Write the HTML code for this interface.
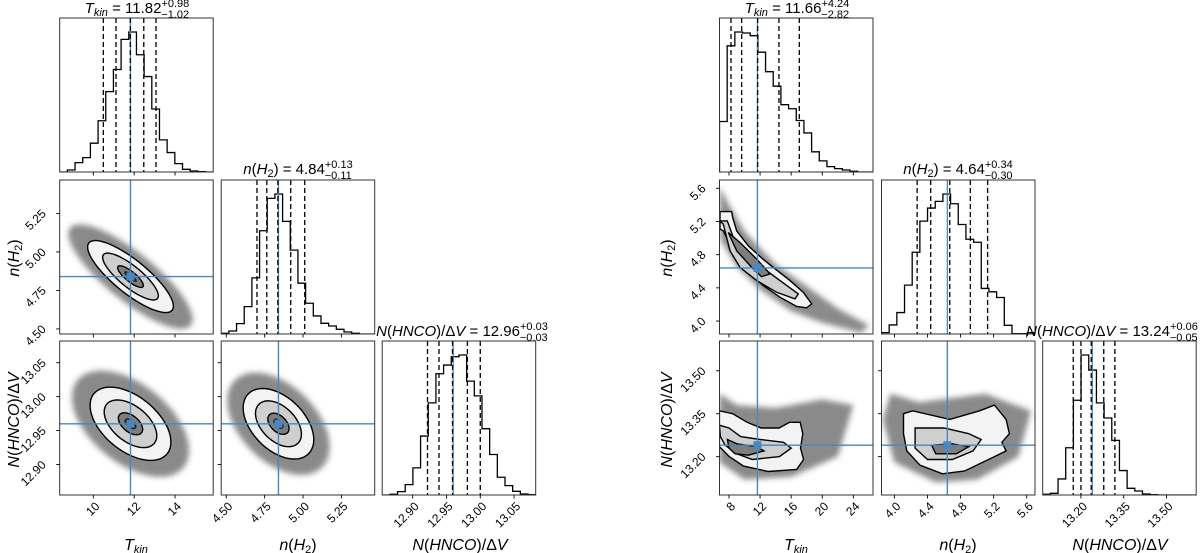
<!DOCTYPE html>
<html><head><meta charset="utf-8"><style>
body{margin:0;background:#fff}
svg{display:block;font-family:"Liberation Sans",sans-serif}
</style></head><body>
<svg id="fig" width="1200" height="553" viewBox="0 0 1200 553" xmlns="http://www.w3.org/2000/svg">
<defs>
<filter id="blur" x="-50%" y="-50%" width="200%" height="200%"><feGaussianBlur stdDeviation="3"/></filter>
</defs>
</svg>
<script>
// ---------- data: left corner plot ----------
const L_tkin_hist=[0,6,28,43,86,153,240,306,396,418,350,285,188,96,58,25,8,3,1,0];
const L_nh2_hist=[2,9,31,82,168,309,406,419,337,251,152,92,54,32,24,14,6,2,0,0];
const L_n_hist=[0,2,10,31,81,176,275,362,388,413,418,340,296,198,121,53,28,11,3,1];
const L_tkin_q=[10.49,11.11,11.81,12.47,13.07];
const L_nh2_q=[4.70,4.764,4.836,4.92,5.011];
const L_n_q=[12.922,12.939,12.959,12.981,13.0];
const L_truth=[11.82,4.84,12.96];
const L_ranges=[[8.353,15.87],[4.467,5.467],[12.855,13.082]];
const L_ticks=[[10,12,14],[4.5,4.75,5.0,5.25],[12.90,12.95,13.00,13.05]];
const L_ticklabels=[["10","12","14"],["4.50","4.75","5.00","5.25"],["12.90","12.95","13.00","13.05"]];
const L_cov_10=[1.05,0.117,-0.82];
const L_cov_20=[0.99,0.027,-0.5];
const L_cov_21=[0.115,0.026,-0.45];
const L_levels=[0.6,1.3,2.0];
// ---------- data: right corner plot ----------
const R_tkin_hist=[150,375,416,413,405,356,298,255,200,188,153,116,60,33,16,10,6,2,0,0];
const R_nh2_hist=[4,27,64,146,244,337,376,396,418,389,327,283,274,136,126,109,26,1,1,4];
const R_n_hist=[2,5,48,141,283,418,373,275,230,163,73,20,12,3,1,0,0,0,0,0];
const R_tkin_q=[8.26,9.63,11.69,14.43,17.05];
const R_nh2_q=[4.275,4.439,4.67,4.918,5.127];
const R_n_q=[13.173,13.2,13.236,13.28,13.319];
const R_truth=[11.66,4.64,13.24];
const R_ranges=[[6.78,26.53],[3.844,5.70],[13.066,13.604]];
const R_ticks=[[8,12,16,20,24],[4.0,4.4,4.8,5.2,5.6],[13.20,13.35,13.50]];
const R_ticklabels=[["8","12","16","20","24"],["4.0","4.4","4.8","5.2","5.6"],["13.20","13.35","13.50"]];
const R_c10_outer=[[6.84,5.319],[8.35,5.319],[8.48,5.247],[8.99,5.087],[10.48,4.907],[12.2,4.76],[13.7,4.647],[15.85,4.487],[17.56,4.347],[18.64,4.207],[18.0,4.16],[16.71,4.175],[14.56,4.287],[12.41,4.427],[10.7,4.568],[8.99,4.727],[8.13,4.887],[7.7,5.007],[7.27,5.087],[6.84,5.108]];
const R_c10_mid=[[6.84,5.207],[7.78,5.207],[8.55,5.007],[9.84,4.847],[11.99,4.667],[14.56,4.487],[16.92,4.327],[16.49,4.267],[14.14,4.347],[11.57,4.487],[9.42,4.647],[8.13,4.847],[7.27,5.167]];
const R_c10_in=[[7.91,5.067],[9.42,4.947],[11.57,4.747],[13.28,4.568],[12.2,4.535],[10.92,4.647],[8.99,4.847]];
const R_c10_cloud=[[6.78,5.62],[8,5.4],[10,5.08],[14,4.68],[18,4.42],[22,4.15],[26,3.95],[25,3.86],[20,3.98],[16,4.12],[12,4.38],[9,4.66],[6.9,4.98]];
const R_c20_outer=[[6.77,13.36],[8.46,13.35],[10.33,13.32],[12.14,13.3],[14.43,13.3],[15.8,13.32],[17.16,13.32],[17.5,13.28],[17.2,13.23],[17.6,13.19],[16.7,13.155],[13.06,13.148],[9.87,13.167],[8.04,13.2],[6.77,13.235]];
const R_c20_mid=[[6.77,13.31],[8,13.3],[9.5,13.27],[12,13.26],[15,13.25],[16,13.23],[14.5,13.2],[11,13.19],[9,13.21],[7.5,13.24],[6.9,13.27]];
const R_c20_in=[[7.8,13.26],[9,13.245],[11.5,13.235],[12.5,13.22],[10.5,13.205],[8.8,13.21],[8,13.23]];
const R_c20_cloud=[[6.78,13.42],[9,13.38],[14,13.37],[20,13.4],[24,13.38],[22,13.2],[16,13.13],[10,13.12],[6.78,13.18]];
const R_c21_outer=[[4.11,13.35],[4.22,13.36],[4.67,13.33],[5.03,13.36],[5.21,13.38],[5.35,13.33],[5.39,13.28],[5.30,13.25],[5.35,13.22],[5.21,13.2],[4.85,13.15],[4.58,13.14],[4.31,13.17],[4.15,13.22],[4.11,13.28]];
const R_c21_mid=[[4.25,13.3],[4.6,13.3],[4.9,13.28],[5.05,13.26],[4.95,13.22],[4.7,13.19],[4.4,13.19],[4.25,13.23]];
const R_c21_in=[[4.45,13.24],[4.7,13.245],[4.9,13.235],[4.75,13.21],[4.5,13.21]];
const R_c21_cloud=[[3.95,13.42],[4.3,13.39],[5.1,13.42],[5.65,13.36],[5.5,13.2],[5.0,13.12],[4.5,13.11],[4.0,13.18],[3.86,13.33]];

const NS="http://www.w3.org/2000/svg";
const svg=document.getElementById('fig');
const BLUE="#4a86c0";
function mk(tag,attrs,parent){const e=document.createElementNS(NS,tag);for(const k in attrs)e.setAttribute(k,attrs[k]);(parent||svg).appendChild(e);return e;}

function drawCorner(cfg){
  const W=153.5,H=154;
  const g=mk('g',{});
  
  
  const sx=(c,v)=>cfg.cols[c]+(v-cfg.ranges[c][0])/(cfg.ranges[c][1]-cfg.ranges[c][0])*W;
  const sy=(r,v)=>cfg.rows[r]+H-(v-cfg.ranges[r][0])/(cfg.ranges[r][1]-cfg.ranges[r][0])*H;
  const hists=[cfg.h0,cfg.h1,cfg.h2], qs=[cfg.q0,cfg.q1,cfg.q2];
  for(let i=0;i<3;i++){
    for(let j=0;j<=i;j++){
      const x0=cfg.cols[j], y0=cfg.rows[i];
      const cid=cfg.pre+'clip'+i+j;
      const cp=mk('clipPath',{id:cid},g);mk('rect',{x:x0,y:y0,width:W,height:H},cp);
      const pg=mk('g',{'clip-path':'url(#'+cid+')'},g);
      if(i===j){
        
        
        const h=hists[i], n=h.length, mx=Math.max(...h)*1.1;
        const [a,b]=cfg.ranges[i];
        let d='M'+x0+','+(y0+H);
        for(let k=0;k<n;k++){
          const xa=sx(i,a+(b-a)*k/n), xb=sx(i,a+(b-a)*(k+1)/n), yy=y0+H-h[k]/mx*H;
          d+=' L'+xa+','+yy+' L'+xb+','+yy;
        }
        d+=' L'+(x0+W)+','+(y0+H);
        const p=mk('path',{d:d,fill:'none',stroke:'#000','stroke-width':1.3},pg);
        
        
        mk('line',{x1:sx(i,cfg.truth[i]),x2:sx(i,cfg.truth[i]),y1:y0,y2:y0+H,stroke:BLUE,'stroke-width':1.3},pg);
        qs[i].forEach(q=>{
          const l=mk('line',{x1:sx(i,q),x2:sx(i,q),y1:y0,y2:y0+H,stroke:'#000','stroke-width':1.3,'stroke-dasharray':'5,3'},pg);
          
          
        });
      } else {
        
        
        const P=pts=>pts.map(p=>sx(j,p[0]).toFixed(1)+','+sy(i,p[1]).toFixed(1)).join(' ');
        let polys;
        const key=''+i+j;
        if(cfg.cov){
          const [csx,csy,rho]=cfg.cov[key];const c=[cfg.truth[j],cfg.truth[i]];
          const ell=k=>{const a=[];for(let t=0;t<64;t++){const th=t/64*2*Math.PI;a.push([c[0]+k*csx*Math.cos(th),c[1]+k*csy*(rho*Math.cos(th)+Math.sqrt(1-rho*rho)*Math.sin(th))]);}return a;};
          polys={cloud:ell(2.9),outer:ell(cfg.levels[2]),mid:ell(cfg.levels[1]),inner:ell(cfg.levels[0]),core:ell(0.3)};
        } else polys=cfg.poly[key];
        mk('polygon',{points:P(polys.cloud),fill:'#3a3a3a','fill-opacity':0.6,filter:'url(#blur)'},pg);
        mk('polygon',{points:P(polys.outer),fill:'#f3f3f3',stroke:'#000','stroke-width':1.4},pg);
        mk('polygon',{points:P(polys.mid),fill:'#cfcfcf',stroke:'#000','stroke-width':1.4},pg);
        mk('polygon',{points:P(polys.inner),fill:'#7e7e7e',stroke:'#000','stroke-width':1.4},pg);
        if(polys.core) mk('polygon',{points:P(polys.core),fill:'#222'},pg);
        const vx=sx(j,cfg.truth[j]), hy=sy(i,cfg.truth[i]);
        mk('line',{x1:vx,x2:vx,y1:y0,y2:y0+H,stroke:BLUE,'stroke-width':1.4},pg);
        mk('line',{x1:x0,x2:x0+W,y1:hy,y2:hy,stroke:BLUE,'stroke-width':1.4},pg);
        const m=mk('rect',{x:vx-4,y:hy-4,width:8,height:8,fill:BLUE},pg);
        
        
      }
      const fr=mk('rect',{x:x0,y:y0,width:W,height:H,fill:'none',stroke:'#333','stroke-width':1},g);
      
      
      cfg.ticks[j].forEach((t,k)=>{
        const x=sx(j,t);
        mk('line',{x1:x,x2:x,y1:y0+H,y2:y0+H+3.5,stroke:'#000','stroke-width':0.9},g);
        if(i===2){
          const tx=mk('text',{x:x+7,y:y0+H+12,'font-size':12,'text-anchor':'end',transform:'rotate(-45 '+(x+7)+' '+(y0+H+12)+')'},g);
          tx.textContent=cfg.ticklabels[j][k];
          
          
        }
      });
      if(i!==j){
        cfg.ticks[i].forEach((t,k)=>{
          const y=sy(i,t);
          mk('line',{x1:x0-3.5,x2:x0,y1:y,y2:y,stroke:'#000','stroke-width':0.9},g);
          if(j===0){
            const px=x0-13, py=y+1;
            const tx=mk('text',{x:px,y:py,'font-size':12,'text-anchor':'end',transform:'rotate(-45 '+px+' '+py+')'},g);
            tx.textContent=cfg.ticklabels[i][k];
            
            
          }
        });
      }
    }
  }
}

drawCorner({name:'corner-plot-left',pre:'L',cols:[59.7,221.2,382.2],rows:[18,180,341],
  ranges:L_ranges,ticks:L_ticks,ticklabels:L_ticklabels,truth:L_truth,names:['tkin','nh2','nhnco'],
  h0:L_tkin_hist,h1:L_nh2_hist,h2:L_n_hist,q0:L_tkin_q,q1:L_nh2_q,q2:L_n_q,
  cov:{'10':L_cov_10,'20':L_cov_20,'21':L_cov_21},levels:L_levels});
drawCorner({name:'corner-plot-right',pre:'R',cols:[719.5,881.5,1042.7],rows:[18,180,341],
  ranges:R_ranges,ticks:R_ticks,ticklabels:R_ticklabels,truth:R_truth,names:['tkin','nh2','nhnco'],
  h0:R_tkin_hist,h1:R_nh2_hist,h2:R_n_hist,q0:R_tkin_q,q1:R_nh2_q,q2:R_n_q,
  poly:{'10':{cloud:R_c10_cloud,outer:R_c10_outer,mid:R_c10_mid,inner:R_c10_in},
        '20':{cloud:R_c20_cloud,outer:R_c20_outer,mid:R_c20_mid,inner:R_c20_in},
        '21':{cloud:R_c21_cloud,outer:R_c21_outer,mid:R_c21_mid,inner:R_c21_in}}});
</script>
<svg width="1200" height="553" style="position:absolute;left:0;top:0" font-family="Liberation Sans, sans-serif">
<text x="137" y="13" font-size="15" text-anchor="middle"><tspan font-style="italic">T</tspan><tspan font-style="italic" font-size="11" dy="3">kin</tspan><tspan dy="-3"> = 11.82</tspan><tspan font-size="11" dy="-6">+0.98</tspan><tspan font-size="11" dx="-28" dy="11">−1.02</tspan></text>
<text x="298" y="174" font-size="15" text-anchor="middle"><tspan font-style="italic">n</tspan>(<tspan font-style="italic">H</tspan><tspan font-size="11" dy="3">2</tspan><tspan dy="-3">) = 4.84</tspan><tspan font-size="11" dy="-6">+0.13</tspan><tspan font-size="11" dx="-28" dy="11">−0.11</tspan></text>
<text x="462" y="336" font-size="15" text-anchor="middle"><tspan font-style="italic">N</tspan>(<tspan font-style="italic">HNCO</tspan>)/Δ<tspan font-style="italic">V</tspan> = 12.96<tspan font-size="11" dy="-6">+0.03</tspan><tspan font-size="11" dx="-28" dy="11">−0.03</tspan></text>
<text x="797" y="13" font-size="15" text-anchor="middle"><tspan font-style="italic">T</tspan><tspan font-style="italic" font-size="11" dy="3">kin</tspan><tspan dy="-3"> = 11.66</tspan><tspan font-size="11" dy="-6">+4.24</tspan><tspan font-size="11" dx="-28" dy="11">−2.82</tspan></text>
<text x="958" y="174" font-size="15" text-anchor="middle"><tspan font-style="italic">n</tspan>(<tspan font-style="italic">H</tspan><tspan font-size="11" dy="3">2</tspan><tspan dy="-3">) = 4.64</tspan><tspan font-size="11" dy="-6">+0.34</tspan><tspan font-size="11" dx="-28" dy="11">−0.30</tspan></text>
<text x="1112" y="336" font-size="15" text-anchor="middle"><tspan font-style="italic">N</tspan>(<tspan font-style="italic">HNCO</tspan>)/Δ<tspan font-style="italic">V</tspan> = 13.24<tspan font-size="11" dy="-6">+0.06</tspan><tspan font-size="11" dx="-28" dy="11">−0.05</tspan></text>
<text x="136" y="550" font-size="16" text-anchor="middle"><tspan font-style="italic">T</tspan><tspan font-style="italic" font-size="11" dy="3">kin</tspan></text>
<text x="298" y="550" font-size="16" text-anchor="middle"><tspan font-style="italic">n</tspan>(<tspan font-style="italic">H</tspan><tspan font-size="11" dy="3">2</tspan><tspan dy="-3">)</tspan></text>
<text x="460" y="550" font-size="16" text-anchor="middle"><tspan font-style="italic">N</tspan>(<tspan font-style="italic">HNCO</tspan>)/Δ<tspan font-style="italic">V</tspan></text>
<text x="796" y="550" font-size="16" text-anchor="middle"><tspan font-style="italic">T</tspan><tspan font-style="italic" font-size="11" dy="3">kin</tspan></text>
<text x="958" y="550" font-size="16" text-anchor="middle"><tspan font-style="italic">n</tspan>(<tspan font-style="italic">H</tspan><tspan font-size="11" dy="3">2</tspan><tspan dy="-3">)</tspan></text>
<text x="1120" y="550" font-size="16" text-anchor="middle"><tspan font-style="italic">N</tspan>(<tspan font-style="italic">HNCO</tspan>)/Δ<tspan font-style="italic">V</tspan></text>
<text transform="translate(19 258) rotate(-90)" font-size="16" text-anchor="middle"><tspan font-style="italic">n</tspan>(<tspan font-style="italic">H</tspan><tspan font-size="11" dy="3">2</tspan><tspan dy="-3">)</tspan></text>
<text transform="translate(19 420) rotate(-90)" font-size="16" text-anchor="middle"><tspan font-style="italic">N</tspan>(<tspan font-style="italic">HNCO</tspan>)/Δ<tspan font-style="italic">V</tspan></text>
<text transform="translate(672 258) rotate(-90)" font-size="16" text-anchor="middle"><tspan font-style="italic">n</tspan>(<tspan font-style="italic">H</tspan><tspan font-size="11" dy="3">2</tspan><tspan dy="-3">)</tspan></text>
<text transform="translate(672 420) rotate(-90)" font-size="16" text-anchor="middle"><tspan font-style="italic">N</tspan>(<tspan font-style="italic">HNCO</tspan>)/Δ<tspan font-style="italic">V</tspan></text>
</svg>
</body></html>
